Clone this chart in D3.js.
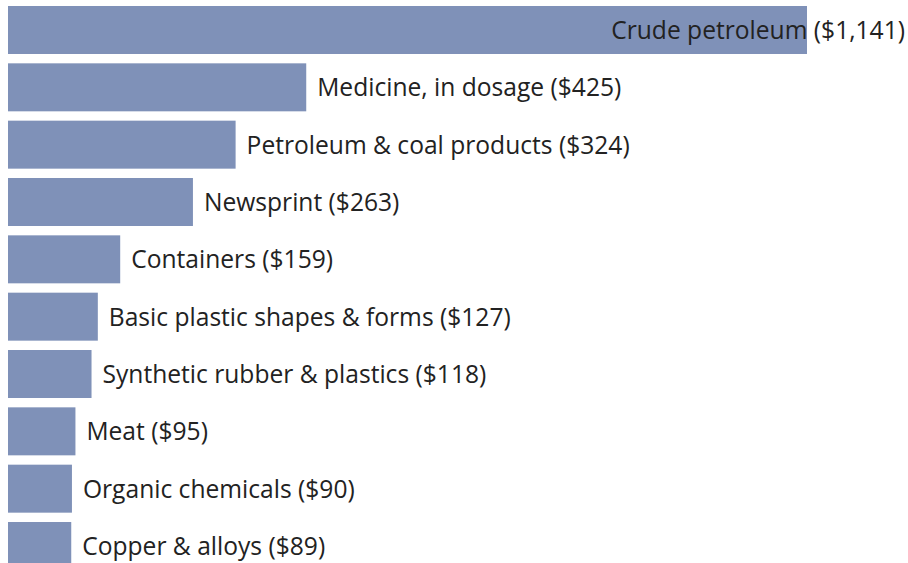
<!DOCTYPE html>
<html>
<head>
<meta charset="utf-8">
<script src="https://cdn.jsdelivr.net/npm/d3@7"></script>
<style>
  body { margin: 0; background: #fff; }
  svg { display: block; }
</style>
</head>
<body>
<div class="grafico"></div>
<script>
var ancho = 908;
var alto = 563;

var productos = ["Crude petroleum", "Medicine, in dosage", "Petroleum & coal products", "Newsprint",
  "Containers", "Basic plastic shapes & forms", "Synthetic rubber & plastics", "Meat",
  "Organic chemicals", "Copper & alloys"];
var valores = [1141, 425, 324, 263, 159, 127, 118, 95, 90, 89];

var contenedor = d3
  .select('.grafico')
  .append('svg')
  .attr('width', ancho)
  .attr('height', alto);

const xScale = d3.scaleLinear()
  .domain([0, 1141])
  .range([8, 806]);

const yScale = d3.scaleBand()
  .domain(productos)
  .range([6, 570])
  .paddingInner(0.163)
  .paddingOuter(0);

contenedor.selectAll('rect')
  .data(productos)
  .enter()
  .append('rect')
  .attr('x', xScale(0))
  .attr('y', d => yScale(d))
  .attr('width', (d, i) => xScale(valores[i]) - xScale(0) + 1)
  .attr('height', yScale.bandwidth())
  .attr('fill', '#7f91b8');

contenedor.selectAll('text.etiqueta')
  .data(productos)
  .enter()
  .append('text')
  .attr('class', 'etiqueta')
  .attr('y', d => yScale(d) + yScale.bandwidth() / 2)
  .attr('dy', '0.36em')
  .style('font-family', '"Open Sans", "Noto Sans", sans-serif')
  .style('font-size', '24.6px')
  .attr('fill', '#222')
  .text((d, i) => d + ' ($' + d3.format(',')(valores[i]) + ')')
  .attr('x', function (d, i) {
    var largo = this.getComputedTextLength();
    return Math.min(xScale(valores[i]) + 12, ancho - 3 - largo);
  });
</script>
</body>
</html>
